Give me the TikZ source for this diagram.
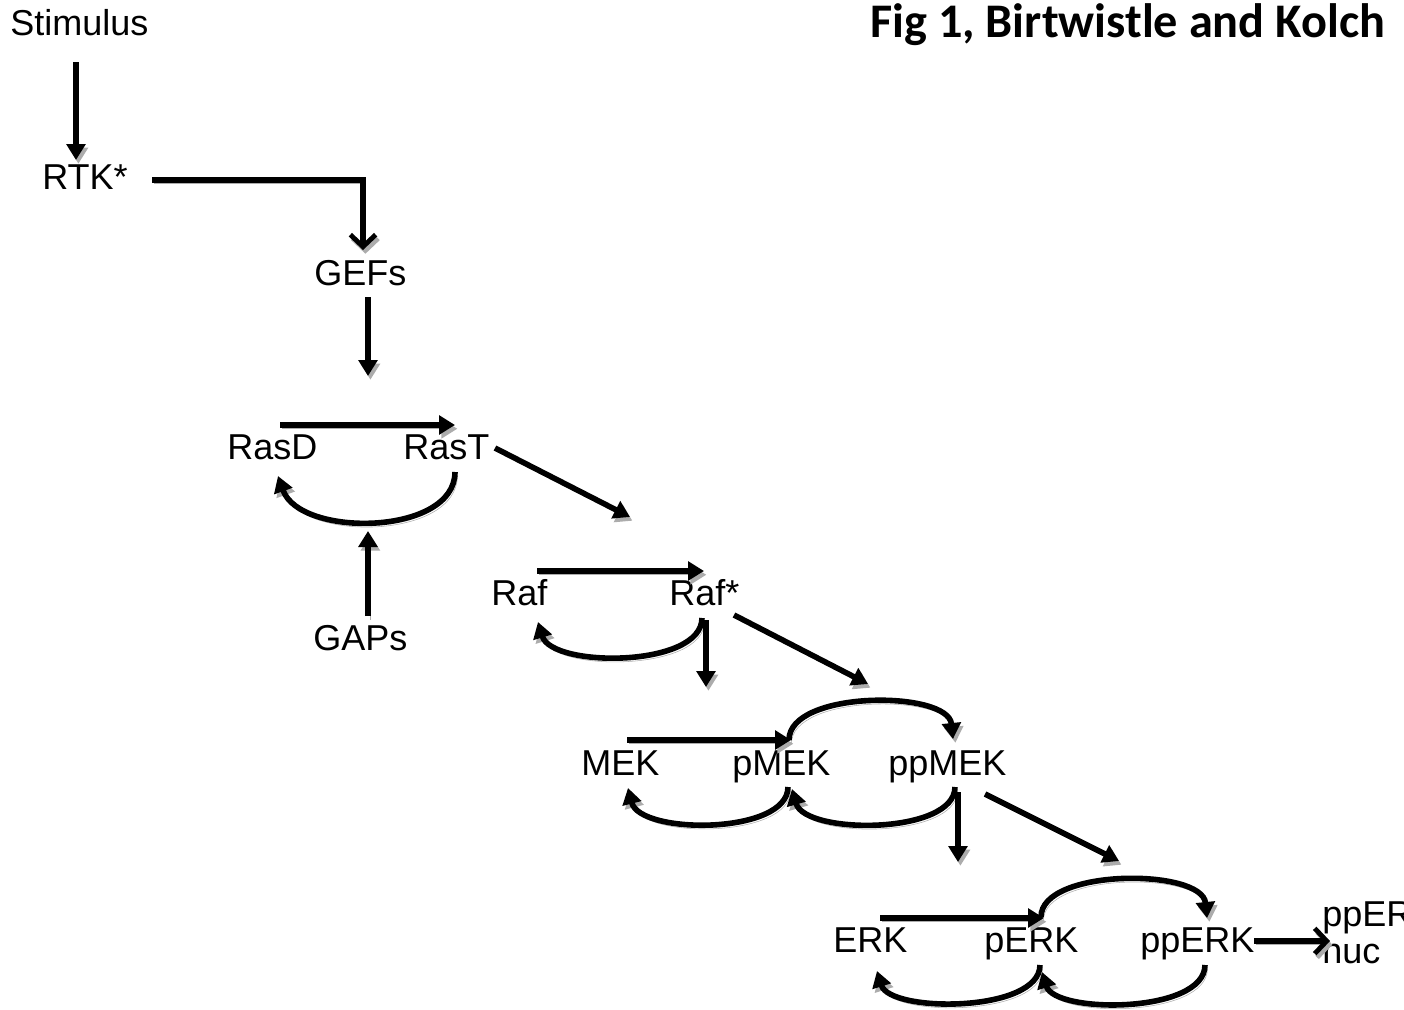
\documentclass[tikz,border=0pt]{standalone}
\usepackage{fontspec}
\setmainfont{Liberation Sans}
\newfontfamily\titlefont{Carlito}
\usetikzlibrary{arrows.meta}
\begin{document}
\begin{tikzpicture}[x=0.75pt,y=-0.75pt,
  lab/.style={anchor=base west, inner sep=0pt, font=\fontsize{27}{31}\selectfont},
  shadowed/.style={preaction={draw=gray!65, transform canvas={shift={(1.8pt,-2.8pt)}}}},
  conn/.style={line width=4.2pt, shadowed, -{Triangle[length=12pt,width=14pt]}},
  openconn/.style={line width=4.2pt, shadowed, -{Straight Barb[length=9pt,width=19pt,line width=3.6pt]}}]
\clip (0,0) rectangle (1404,1010);
\fill[white] (0,0) rectangle (1404,1010);
% labels
\node[lab] (stim) at (10,36) {Stimulus};
\node[anchor=base west, inner sep=0pt, font=\titlefont\bfseries\fontsize{36.2}{40}\selectfont] (title) at (870,37) {Fig 1, Birtwistle and Kolch};
\node[lab] (rtk) at (42,189) {RTK*};
\node[lab] (gefs) at (314,285) {GEFs};
\node[lab] (rasd) at (227,459) {RasD};
\node[lab] (rast) at (403,459) {RasT};
\node[lab] (gaps) at (313,650) {GAPs};
\node[lab] (raf) at (491,605) {Raf};
\node[lab] (rafs) at (669,605) {Raf*};
\node[lab] (mek) at (581,775) {MEK};
\node[lab] (pmek) at (732,775) {pMEK};
\node[lab] (ppmek) at (888,775) {ppMEK};
\node[lab] (erk) at (833,952) {ERK};
\node[lab] (perk) at (984,952) {pERK};
\node[lab] (pperk) at (1140,952) {ppERK};
\node[lab] (ppernuc) at (1322,926) {ppERK};
\node[lab] (nuc) at (1322,963) {nuc};
% connector end points
\coordinate (s1) at (76,62);   \coordinate (s2) at (76,160);
\coordinate (r1) at (152,180); \coordinate (r2) at (363,180); \coordinate (r3) at (363,250);
\coordinate (g1) at (368,297); \coordinate (g2) at (368,376);
\coordinate (a1) at (280,425); \coordinate (a2) at (455,425);
\coordinate (a3) at (455,472); \coordinate (a4) at (278,476);
\coordinate (gp1) at (368,616); \coordinate (gp2) at (368,531);
\coordinate (d1) at (495,448); \coordinate (d2) at (630,517);
\coordinate (b1) at (537,571); \coordinate (b2) at (704,571);
\coordinate (b3) at (702,618); \coordinate (b4) at (538,622);
\coordinate (b5) at (706,620); \coordinate (b6) at (706,687);
\coordinate (e1) at (734,615); \coordinate (e2) at (868,684);
\coordinate (m1) at (627,740); \coordinate (m2) at (791,740);
\coordinate (m3) at (789,740); \coordinate (m4) at (953,739);
\coordinate (m5) at (788,787); \coordinate (m6) at (628,788);
\coordinate (m7) at (955,787); \coordinate (m8) at (792,789);
\coordinate (m9) at (958,792); \coordinate (m10) at (958,862);
\coordinate (f1) at (985,794); \coordinate (f2) at (1119,861);
\coordinate (k1) at (880,918); \coordinate (k2) at (1044,918);
\coordinate (k3) at (1041,917); \coordinate (k4) at (1207,918);
\coordinate (k5) at (1040,965); \coordinate (k6) at (877,971);
\coordinate (k7) at (1205,965); \coordinate (k8) at (1042,972);
\coordinate (n1) at (1254,941); \coordinate (n2) at (1330,941);
% connectors
\draw[conn] (s1) -- (s2);
\draw[openconn] (r1) -- (r2) -- (r3);
\draw[conn] (g1) -- (g2);
\draw[conn] (a1) -- (a2);
\draw[conn] (a3) .. controls (455,536) and (300,538) .. (a4);
\draw[conn] (gp1) -- (gp2);
\draw[conn] (d1) -- (d2);
\draw[conn] (b1) -- (b2);
\draw[conn] (b3) .. controls (702,668) and (552,668) .. (b4);
\draw[conn] (b5) -- (b6);
\draw[conn] (e1) -- (e2);
\draw[conn] (m1) -- (m2);
\draw[conn] (m3) .. controls (789,690) and (948,690) .. (m4);
\draw[conn] (m5) .. controls (788,835) and (640,835) .. (m6);
\draw[conn] (m7) .. controls (955,835) and (805,835) .. (m8);
\draw[conn] (m9) -- (m10);
\draw[conn] (f1) -- (f2);
\draw[conn] (k1) -- (k2);
\draw[conn] (k3) .. controls (1041,868) and (1202,868) .. (k4);
\draw[conn] (k5) .. controls (1040,1013) and (890,1013) .. (k6);
\draw[conn] (k7) .. controls (1205,1014) and (1055,1014) .. (k8);
\draw[openconn] (n1) -- (n2);
\end{tikzpicture}
\end{document}
